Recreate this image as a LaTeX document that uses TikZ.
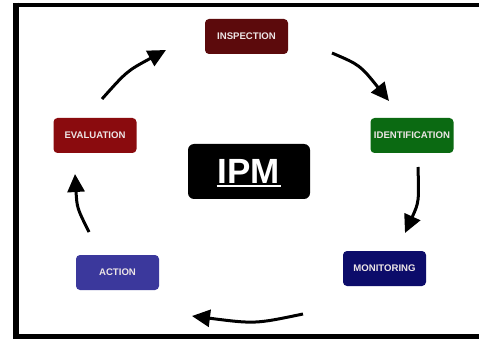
\documentclass[tikz,border=0pt]{standalone}
\usepackage{fontspec}
\setmainfont{Liberation Sans}
\usetikzlibrary{arrows.meta}
\definecolor{inspcol}{HTML}{5C0A0C}
\definecolor{evalcol}{HTML}{8A0B0E}
\definecolor{identcol}{HTML}{0B6A12}
\definecolor{moncol}{HTML}{0C0C6A}
\definecolor{actcol}{HTML}{3B389C}
\definecolor{txtcol}{HTML}{EDE6E6}
\tikzset{
  stagebox/.style={rounded corners=4pt, minimum width=83pt, minimum height=35pt,
    inner sep=0pt, text=txtcol, font=\fontsize{9.6}{10}\selectfont\bfseries},
  cyclearrow/.style={line width=3pt, -{Triangle[length=18pt,width=17pt]}},
}
\begin{document}
\begin{tikzpicture}[x=1pt,y=-1pt]
\useasboundingbox (0,0) rectangle (479,339);
\fill[white] (0,0) rectangle (479,339);
% frame
\draw[line width=4.5pt] (481,5) -- (13,5);
\draw[line width=6pt] (16,2.75) -- (16,339);
\draw[line width=4.5pt] (13,336.5) -- (481,336.5);
% stage boxes
\node[stagebox, fill=inspcol] (insp) at (246.5,36.5) {INSPECTION};
\node[stagebox, fill=identcol] (ident) at (412,135.5) {IDENTIFICATION};
\node[stagebox, fill=evalcol] (eval) at (95,135.5) {EVALUATION};
\node[stagebox, fill=actcol] (act) at (117.5,272.5) {ACTION};
\node[stagebox, fill=moncol] (mon) at (384.5,268.5) {MONITORING};
% centre
\node[rounded corners=6pt, fill=black, minimum width=122pt, minimum height=55pt,
  inner sep=0pt] (ipm) at (249,171.5) {};
\node[text=white, font=\fontsize{35}{36}\selectfont\bfseries, inner sep=0pt] (ipmtext) at (249,171) {IPM};
\draw[white, line width=2pt] ([xshift=-1pt,yshift=-3pt]ipmtext.south west) -- ([xshift=1pt,yshift=-3pt]ipmtext.south east);
% arrow end points
\coordinate (a1s) at (332,53);
\coordinate (a1e) at (389,101);
\coordinate (a2s) at (418,167);
\coordinate (a2e) at (405,233);
\coordinate (a3s) at (303,314);
\coordinate (a3e) at (192,316);
\coordinate (a4s) at (89,232);
\coordinate (a4e) at (75,174);
\coordinate (a5s) at (102,99);
\coordinate (a5e) at (166,50);
\draw[cyclearrow] (a1s) .. controls (360,65) .. (a1e);
\draw[cyclearrow] (a2s) .. controls (419,202) .. (a2e);
\draw[cyclearrow] (a3s) .. controls (255,324) .. (a3e);
\draw[cyclearrow] (a4s) .. controls (77,208) .. (a4e);
\draw[cyclearrow] (a5s) .. controls (127,71) .. (a5e);
\end{tikzpicture}
\end{document}
